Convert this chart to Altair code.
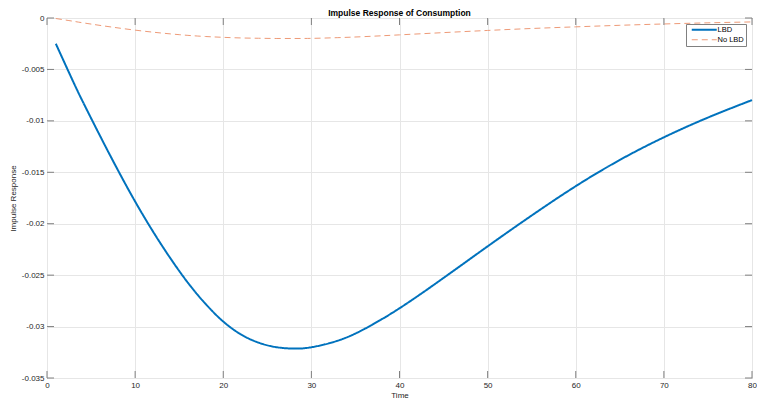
import altair as alt
import pandas as pd

# ---- data ----
t_vals = [1, 3, 5, 10, 15, 18, 20, 22, 24, 26, 28, 30, 33, 36, 40,
          45, 50, 55, 60, 65, 70, 75, 80]
lbd = [-0.00250, -0.00624, -0.00974, -0.01784, -0.02459, -0.02780, -0.02951,
       -0.03076, -0.03156, -0.03200, -0.03214, -0.03201, -0.03137, -0.03024,
       -0.02822, -0.02527, -0.02220, -0.01920, -0.01635, -0.01380, -0.01160,
       -0.00968, -0.00798]
no_lbd = [-0.00005, -0.00032, -0.00059, -0.00118, -0.00162, -0.00180, -0.00188,
          -0.00194, -0.00197, -0.00199, -0.00199, -0.00198, -0.00191, -0.00181,
          -0.00164, -0.00142, -0.00121, -0.00102, -0.00086, -0.00071, -0.00058,
          -0.00047, -0.00038]
series_names = ["LBD", "No LBD"]
x_ticks = [0, 10, 20, 30, 40, 50, 60, 70, 80]
y_ticks = [0, -0.005, -0.01, -0.015, -0.02, -0.025, -0.03, -0.035]

df = pd.concat([
    pd.DataFrame({"t": t_vals, "value": lbd, "series": series_names[0]}),
    pd.DataFrame({"t": t_vals, "value": no_lbd, "series": series_names[1]}),
])
xt = pd.DataFrame({"t": x_ticks})
yt = pd.DataFrame({"value": y_ticks})

W, H = 705, 360
FONT = "Liberation Sans"
AX = "#808080"

x_scale = alt.Scale(domain=[0, 80], nice=False, zero=False)
y_scale = alt.Scale(domain=[-0.035, 0], nice=False, zero=False)
x_axis = alt.Axis(values=x_ticks, title="Time", grid=True, ticks=False, domain=False,
                  labelPadding=3, titlePadding=2, labelFlush=False,
                  labelFont=FONT, titleFont=FONT, labelFontSize=8, titleFontSize=8,
                  labelColor="#262626", titleColor="#262626",
                  titleFontWeight="normal", gridColor="#e6e6e6", gridWidth=1)
y_axis = alt.Axis(values=y_ticks, title="Impulse Response", grid=True, ticks=False,
                  domain=False, labelPadding=3, titlePadding=4,
                  labelExpr="toString(datum.value)", labelFlush=False,
                  labelFont=FONT, titleFont=FONT, labelFontSize=8, titleFontSize=8,
                  labelColor="#262626", titleColor="#262626",
                  titleFontWeight="normal", gridColor="#e6e6e6", gridWidth=1)

X = alt.X("t:Q", scale=x_scale, axis=x_axis)
Y = alt.Y("value:Q", scale=y_scale, axis=y_axis)

leg = dict(title=None, orient="top-right", offset=6, padding=2, rowPadding=1,
           labelFont=FONT, labelFontSize=7.5, labelColor="#000000",
           labelOffset=22, symbolType="M0,0H10", symbolSize=25,
           fillColor="white", strokeColor="#808080")

lines = alt.Chart(df).mark_line(interpolate="natural").encode(
    x=X,
    y=Y,
    color=alt.Color("series:N", scale=alt.Scale(domain=series_names,
                                                range=["#0072BD", "#EE9A77"]),
                    legend=alt.Legend(**leg)),
    strokeDash=alt.StrokeDash("series:N", scale=alt.Scale(domain=series_names,
                                                          range=[[1, 0], [6, 4]]),
                              legend=alt.Legend(**leg)),
    strokeWidth=alt.StrokeWidth("series:N", scale=alt.Scale(domain=series_names,
                                                            range=[2, 1]),
                                legend=alt.Legend(**leg)),
)

tick_len = 7
xt_bottom = alt.Chart(xt).mark_rule(color=AX, strokeWidth=1).encode(
    x=X, y=alt.value(H), y2=alt.value(H - tick_len))
xt_top = alt.Chart(xt).mark_rule(color=AX, strokeWidth=1).encode(
    x=X, y=alt.value(0), y2=alt.value(tick_len))
yt_left = alt.Chart(yt).mark_rule(color=AX, strokeWidth=1).encode(
    y=Y, x=alt.value(0), x2=alt.value(tick_len))
yt_right = alt.Chart(yt).mark_rule(color=AX, strokeWidth=1).encode(
    y=Y, x=alt.value(W), x2=alt.value(W - tick_len))

chart = alt.layer(lines, xt_bottom, xt_top, yt_left, yt_right).properties(
    width=W, height=H,
    background="white",
    title=alt.TitleParams("Impulse Response of Consumption", fontSize=8.5,
                          font=FONT, fontWeight="bold", color="#000000",
                          anchor="middle", offset=-3),
    padding={"left": 47, "top": 18, "right": 5, "bottom": 24},
    autosize=alt.AutoSizeParams(type="none"),
).configure_view(
    stroke=AX, strokeWidth=1
).configure_legend(
    strokeWidth=1
)

chart.save("out.html", embed_options={"renderer": "svg", "actions": False})
